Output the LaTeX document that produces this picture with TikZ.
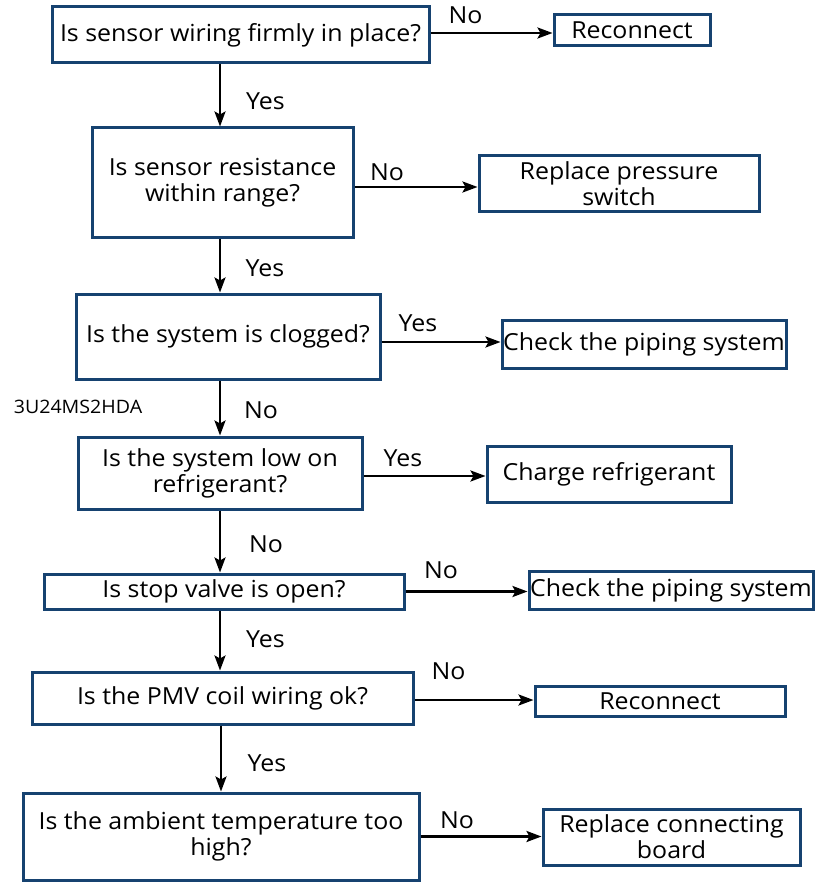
\documentclass[tikz,border=0pt]{standalone}
\usepackage{fontspec}
\setmainfont{Open Sans}[FakeStretch=1.06]
\usetikzlibrary{arrows.meta}
\definecolor{boxblue}{RGB}{22,66,112}
\tikzset{
  box/.style={draw=boxblue, line width=3pt, fill=white, inner sep=0pt, align=center,
    font=\fontsize{23.5}{26}\selectfont},
  flow/.style={draw=black, line width=2.5pt, -{Stealth[length=15pt,width=11pt,inset=3pt]}},
  lbl/.style={inner sep=0pt, font=\fontsize{23.5}{26}\selectfont},
}
\begin{document}
\begin{tikzpicture}[x=1pt,y=-1pt]
\useasboundingbox (0,0) rectangle (826,882);
% column for vertical arrows
\coordinate (col) at (220,0);
\coordinate (colb) at (221,0);
% question boxes
\node[box, minimum width=377pt, minimum height=56pt] (b1) at (240.5,35) {Is sensor wiring firmly in place?};
\node[box, minimum width=261pt, minimum height=110pt] (b2) at (222.5,183) {Is sensor resistance\\within range?};
\node[box, minimum width=304pt, minimum height=85pt] (b3) at (228,336.5) {Is the system is clogged?};
\node[box, minimum width=284pt, minimum height=72pt] (b4) at (220,473) {Is the system low on\\refrigerant?};
\node[box, minimum width=360pt, minimum height=35pt] (b5) at (224,591.5) {Is stop valve is open?};
\node[box, minimum width=381pt, minimum height=52pt] (b6) at (222.5,698) {Is the PMV coil wiring ok?};
\node[box, minimum width=396pt, minimum height=87pt] (b7) at (221,836.5) {Is the ambient temperature too\\high?};
% result boxes
\node[box, minimum width=156pt, minimum height=31pt] (r1) at (632,30.5) {Reconnect};
\node[box, minimum width=280pt, minimum height=56pt] (r2) at (619,184) {Replace pressure\\switch};
\node[box, minimum width=284pt, minimum height=48pt] (r3) at (644,344) {Check the piping system};
\node[box, minimum width=244pt, minimum height=56pt] (r4) at (609,474) {Charge refrigerant};
\node[box, minimum width=284pt, minimum height=38pt] (r5) at (671,590) {Check the piping system};
\node[box, minimum width=250pt, minimum height=30pt] (r6) at (660,701) {Reconnect};
\node[box, minimum width=257pt, minimum height=56pt] (r7) at (671.5,837) {Replace connecting\\board};
% note
\node[inner sep=0pt, font=\fontsize{18.5}{20}\selectfont] (note) at (78,407) {3U24MS2HDA};
% vertical arrows
\draw[flow] (b1.south -| col) -- (b2.north -| col);
\draw[flow] (b2.south -| col) -- (b3.north -| col);
\draw[flow] (b3.south -| col) -- (b4.north -| col);
\draw[flow] (b4.south -| col) -- (b5.north -| col);
\draw[flow] (b5.south -| col) -- (b6.north -| col);
\draw[flow] (b6.south -| colb) -- (b7.north -| colb);
% horizontal arrows
\draw[flow] (b1.east) ++(0,-2) coordinate (h1) -- (h1 -| r1.west);
\draw[flow] (b2.east) ++(0,4) coordinate (h2) -- (h2 -| r2.west);
\draw[flow] (b3.east) ++(0,5.5) coordinate (h3) -- (h3 -| r3.west);
\draw[flow] (b4.east) ++(0,3) coordinate (h4) -- (h4 -| r4.west);
\draw[flow] (b5.east) -- (b5.east -| r5.west);
\draw[flow] (b6.east) ++(0,2) coordinate (h6) -- (h6 -| r6.west);
\draw[flow] (b7.east) -- (b7.east -| r7.west);
% labels
\node[lbl] (l1) at (465.5,15) {No};
\node[lbl] (l2) at (265.5,101.5) {Yes};
\node[lbl] (l3) at (387,172.5) {No};
\node[lbl] (l4) at (265,268) {Yes};
\node[lbl] (l5) at (418,323.5) {Yes};
\node[lbl] (l6) at (261,410) {No};
\node[lbl] (l7) at (403,458.5) {Yes};
\node[lbl] (l8) at (266,544) {No};
\node[lbl] (l9) at (441,570) {No};
\node[lbl] (l10) at (265.5,639) {Yes};
\node[lbl] (l11) at (448.5,671.5) {No};
\node[lbl] (l12) at (267,763.5) {Yes};
\node[lbl] (l13) at (457,820) {No};
\end{tikzpicture}
\end{document}
